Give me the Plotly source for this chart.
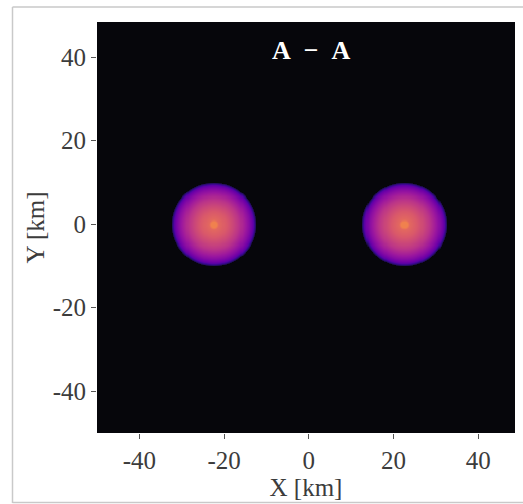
import numpy as np
import plotly.graph_objects as go

# Two equal stars in the orbital plane (km)
star_x = [-22.5, 22.5]
star_y = [0.0, 0.0]

# Radial colour-value profile of each star (distance from centre in km -> value)
profile_r = [0.0, 0.7, 1.2, 3.0, 4.5, 6.0, 7.3, 8.3, 9.0, 9.4, 9.75, 10.1]
profile_v = [0.69, 0.69, 0.61, 0.56, 0.50, 0.43, 0.35, 0.28, 0.22, 0.16, 0.04, -0.10]

x_ticks = [-40, -20, 0, 20, 40]
y_ticks = [-40, -20, 0, 20, 40]

title_text = "A \u2212 A"
x_title = "X [km]"
y_title = "Y [km]"

# Empty space is drawn black, matter with a plasma-style map
empty_value = -0.15
bg_color = "#06060b"
plasma = ["#2a0c6e", "#46039f", "#7201a8", "#9c179e", "#bd3786",
          "#d8576b", "#ed7953", "#fb9f3a", "#fdca26", "#f0f921"]

# Simulation grid (cell centres, km)
cell = 0.25
xs = np.arange(-49.875, 48.875 + 1e-9, cell)
ys = np.arange(-49.875, 48.875 + 1e-9, cell)
X, Y = np.meshgrid(xs, ys)

field = np.full_like(X, empty_value)
for cx, cy in zip(star_x, star_y):
    d = np.hypot(X - cx, Y - cy)
    field = np.maximum(field, np.interp(d, profile_r, profile_v, right=empty_value))
field = np.round(field, 3)

span = 1.0 - empty_value
colorscale = [[0.0, bg_color]]
for i, c in enumerate(plasma):
    v = i / (len(plasma) - 1)
    colorscale.append([(v - empty_value) / span, c])

fig = go.Figure(
    go.Heatmap(
        x=xs, y=ys, z=field,
        colorscale=colorscale, zmin=empty_value, zmax=1,
        showscale=False, zsmooth="best",
        hoverinfo="skip",
    )
)

W, H = 523, 504
ml, mr, mt, mb = 97, 8, 22, 71
pw, ph = W - ml - mr, H - mt - mb

def px_to_paper_x(px):
    return (px - ml) / pw

def px_to_paper_y(py):
    return (H - mb - py) / ph

frame_col = "#c9c9c9"
fig.add_shape(type="line", xref="paper", yref="paper",
              x0=px_to_paper_x(12.5), x1=px_to_paper_x(12.5),
              y0=px_to_paper_y(7), y1=px_to_paper_y(503),
              line=dict(color=frame_col, width=1.5))
fig.add_shape(type="line", xref="paper", yref="paper",
              x0=px_to_paper_x(12.5), x1=px_to_paper_x(530),
              y0=px_to_paper_y(7), y1=px_to_paper_y(7),
              line=dict(color=frame_col, width=1.5))
fig.add_shape(type="line", xref="paper", yref="paper",
              x0=px_to_paper_x(12.5), x1=px_to_paper_x(530),
              y0=px_to_paper_y(502.5), y1=px_to_paper_y(502.5),
              line=dict(color=frame_col, width=1.5))

fig.add_annotation(
    text="<b>" + title_text.replace(" ", "\u2002") + "</b>",
    x=px_to_paper_x(311), y=px_to_paper_y(50),
    xref="paper", yref="paper", showarrow=False,
    font=dict(family="Liberation Serif", size=26, color="white"),
    xanchor="center", yanchor="middle",
)

axis_font = dict(family="Liberation Serif", size=25, color="#3c3c3c")
fig.update_xaxes(
    range=[-50, 48.7], tickmode="array", tickvals=x_ticks,
    ticktext=[str(t) for t in x_ticks],
    ticks="outside", ticklen=5, tickwidth=1, tickcolor="#555",
    tickfont=axis_font, showgrid=False, zeroline=False, showline=False,
    title=dict(text=x_title, font=axis_font, standoff=2),
)
fig.update_yaxes(
    range=[-50, 48.4], tickmode="array", tickvals=y_ticks,
    ticktext=[str(t) for t in y_ticks],
    ticks="outside", ticklen=5, tickwidth=1, tickcolor="#555",
    tickfont=axis_font, showgrid=False, zeroline=False, showline=False,
    title=dict(text=y_title, font=axis_font, standoff=0),
)
fig.update_layout(
    width=W, height=H,
    margin=dict(l=ml, r=mr, t=mt, b=mb, pad=0),
    paper_bgcolor="white", plot_bgcolor=bg_color,
    showlegend=False,
)

fig.write_html("out.html")
